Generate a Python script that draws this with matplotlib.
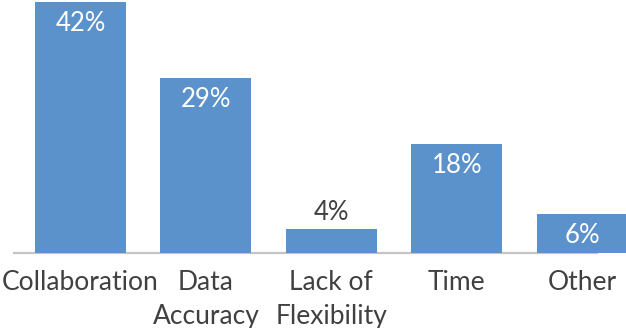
import matplotlib.pyplot as plt

# data
categories = ["Collaboration", "Data\nAccuracy", "Lack of\nFlexibility", "Time", "Other"]
values = [41.6, 29, 4, 18, 6.4]
value_labels = ["42%", "29%", "4%", "18%", "6%"]
inside = [True, True, False, True, True]  # small bar gets its label on top

bar_color = "#5b92cc"
text_color = "#404040"

fig = plt.figure(figsize=(6.26, 3.28), dpi=100)
# axes fill the width; baseline sits 75 px above the bottom edge
ax = fig.add_axes([0, 75 / 328, 1, 253 / 328])

x = list(range(len(categories)))
bars = ax.bar(x, values, width=0.726, color=bar_color, zorder=2)

ax.set_xlim(-0.642, 4.350)
ax.set_ylim(0, 41.96)

# light grey baseline (stops short of the last bar, like the original)
ax.plot([-0.538, 4.127], [0, 0], color="#c4c4c4", lw=1.6, zorder=1,
        solid_capstyle="butt", clip_on=False)

for b, lab, ins in zip(bars, value_labels, inside):
    cx = b.get_x() + b.get_width() / 2
    top = b.get_height()
    if ins:
        ax.annotate(lab, (cx, top), xytext=(0, -15.5), textcoords="offset points",
                    ha="center", va="center", color="white", fontsize=18.5,
                    family="Lato", zorder=3)
    else:
        ax.annotate(lab, (cx, top), xytext=(0, 11.5), textcoords="offset points",
                    ha="center", va="center", color=text_color, fontsize=18.5,
                    family="Lato", zorder=3)

ax.set_xticks(x, labels=categories)
ax.tick_params(axis="x", length=0, pad=12.5, labelsize=19, labelcolor=text_color)
for t in ax.get_xticklabels():
    t.set_family("Lato")
    t.set_linespacing(1.45)
ax.set_yticks([])
for s in ax.spines.values():
    s.set_visible(False)

fig.savefig("out.png", dpi=100)
